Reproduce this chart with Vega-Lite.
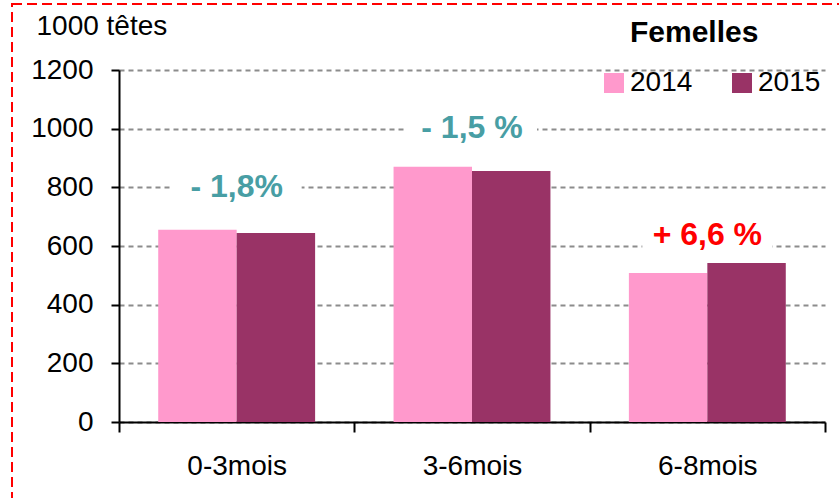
{
  "$schema": "https://vega.github.io/schema/vega-lite/v6.json",
  "width": 831,
  "height": 498,
  "autosize": {"type": "none"},
  "padding": {"left": 12, "top": 4, "right": -4, "bottom": -4},
  "background": "white",
  "config": {
    "view": {"stroke": "#FF0000", "strokeDash": [10, 5], "strokeWidth": 2},
    "font": "Liberation Sans"
  },
  "title": {
    "text": "Femelles",
    "anchor": "start",
    "frame": "group",
    "fontSize": 30,
    "fontWeight": "bold",
    "font": "Liberation Sans",
    "color": "black",
    "offset": 0,
    "baseline": "alphabetic",
    "dx": 618,
    "dy": 68
  },
  "datasets": {
    "bars": [
      {"cat": "0-3mois", "year": "2014", "value": 655},
      {"cat": "0-3mois", "year": "2015", "value": 644},
      {"cat": "3-6mois", "year": "2014", "value": 870},
      {"cat": "3-6mois", "year": "2015", "value": 856},
      {"cat": "6-8mois", "year": "2014", "value": 508},
      {"cat": "6-8mois", "year": "2015", "value": 542}
    ],
    "notes": [
      {"cat": "0-3mois", "label": "- 1,8%", "y": 801, "change": -1.8},
      {"cat": "3-6mois", "label": "- 1,5 %", "y": 1002, "change": -1.5},
      {"cat": "6-8mois", "label": "+ 6,6 %", "y": 638, "change": 6.6}
    ]
  },
  "layer": [
    {
      "data": {"name": "bars"},
      "mark": {"type": "bar"},
      "encoding": {
        "x": {
          "field": "cat",
          "type": "nominal",
          "sort": null,
          "scale": {"range": [107, 813], "paddingInner": 0, "paddingOuter": 0},
          "axis": {
            "title": null,
            "orient": "bottom",
            "offset": -80,
            "domainColor": "black",
            "domainWidth": 2,
            "tickColor": "black",
            "tickWidth": 2,
            "tickSize": 10,
            "tickBand": "extent",
            "labelFontSize": 28,
            "labelColor": "black",
            "labelFont": "Liberation Sans",
            "labelBaseline": "middle",
            "labelPadding": 34,
            "labelAngle": 0
          }
        },
        "xOffset": {
          "field": "year",
          "type": "nominal",
          "scale": {"paddingInner": 0, "paddingOuter": 0.5}
        },
        "y": {
          "field": "value",
          "type": "quantitative",
          "scale": {"domain": [0, 1200], "range": [418, 66], "nice": false},
          "axis": {
            "title": "1000 têtes",
            "titleAngle": 0,
            "titleAlign": "left",
            "titleBaseline": "alphabetic",
            "titleX": -83,
            "titleY": 30,
            "titleFontSize": 28,
            "titleFontWeight": "normal",
            "titleFont": "Liberation Sans",
            "titleColor": "black",
            "orient": "left",
            "offset": -107,
            "values": [0, 200, 400, 600, 800, 1000, 1200],
            "format": "d",
            "domainColor": "black",
            "domainWidth": 2,
            "tickColor": "black",
            "tickWidth": 2,
            "tickSize": 8,
            "labelFontSize": 28,
            "labelColor": "black",
            "labelFont": "Liberation Sans",
            "labelPadding": 18,
            "grid": true,
            "gridColor": "#8C8C8C",
            "gridDash": [5, 4],
            "gridWidth": 2
          }
        },
        "color": {
          "field": "year",
          "type": "nominal",
          "scale": {"domain": ["2014", "2015"], "range": ["#FF99CC", "#993366"]},
          "legend": {
            "title": null,
            "orient": "none",
            "legendX": 588,
            "legendY": 65,
            "direction": "horizontal",
            "padding": 0,
            "symbolType": "square",
            "symbolSize": 400,
            "symbolStrokeWidth": 0,
            "symbolOpacity": 1,
            "labelFontSize": 28,
            "labelFont": "Liberation Sans",
            "labelColor": "black",
            "labelOffset": 2,
            "columnPadding": 35
          }
        }
      }
    },
    {
      "data": {"name": "notes"},
      "mark": {
        "type": "point",
        "shape": "M-1,-0.22L1,-0.22L1,0.22L-1,0.22Z",
        "filled": true,
        "color": "white",
        "opacity": 1,
        "size": 16900,
        "strokeWidth": 0
      },
      "encoding": {
        "x": {"field": "cat", "type": "nominal", "sort": null},
        "y": {"field": "y", "type": "quantitative"}
      }
    },
    {
      "data": {"name": "notes"},
      "mark": {"type": "text", "fontSize": 32, "fontWeight": "bold", "baseline": "middle", "font": "Liberation Sans"},
      "encoding": {
        "x": {"field": "cat", "type": "nominal", "sort": null},
        "y": {"field": "y", "type": "quantitative"},
        "text": {"field": "label"},
        "color": {
          "condition": {"test": "datum.change > 0", "value": "#FF0000"},
          "value": "#489EA4"
        }
      }
    }
  ]
}
